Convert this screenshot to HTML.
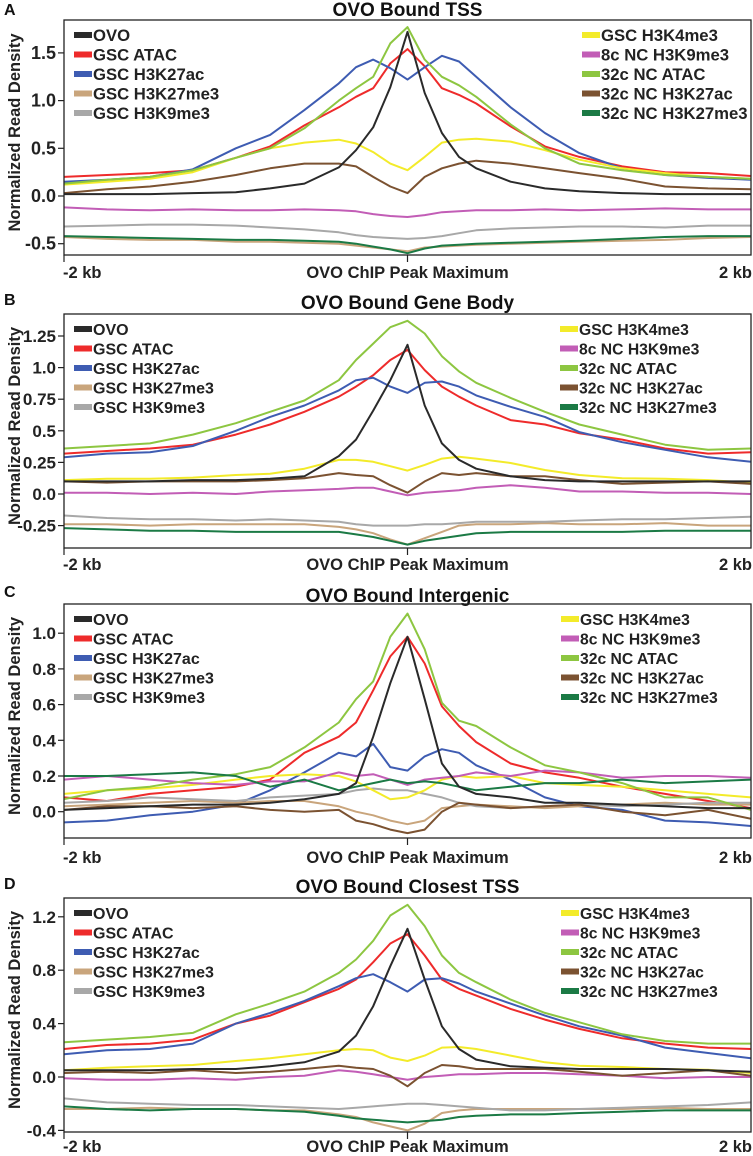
<!DOCTYPE html>
<html><head><meta charset="utf-8">
<style>
html,body{margin:0;padding:0;background:#fff;}
svg{display:block;font-family:"Liberation Sans",Arial,sans-serif;font-weight:bold;}
</style></head>
<body>
<svg id="fig" width="753" height="1156" viewBox="0 0 753 1156" xmlns="http://www.w3.org/2000/svg"></svg>
<script>
// shared x positions (bp relative to OVO ChIP peak maximum)
const positions = [-2000,-1750,-1500,-1250,-1000,-800,-600,-400,-300,-200,-100,0,100,200,300,400,600,800,1000,1250,1500,1750,2000];
const seriesNames = ["GSC ATAC","GSC H3K27ac","GSC H3K27me3","GSC H3K9me3","GSC H3K4me3","8c NC H3K9me3","32c NC ATAC","32c NC H3K27ac","32c NC H3K27me3","OVO"];

// Panel A: TSS
const tssOVO = [0.02,0.02,0.02,0.03,0.04,0.08,0.13,0.30,0.48,0.72,1.14,1.72,1.08,0.66,0.41,0.29,0.15,0.08,0.05,0.03,0.02,0.02,0.02];
const tssAtac = [0.20,0.22,0.24,0.27,0.40,0.52,0.74,0.93,1.04,1.13,1.39,1.54,1.36,1.13,1.06,0.97,0.73,0.52,0.41,0.31,0.25,0.24,0.21];
const tssK27ac = [0.15,0.17,0.20,0.28,0.50,0.64,0.90,1.18,1.35,1.43,1.34,1.22,1.35,1.47,1.41,1.25,0.93,0.66,0.45,0.29,0.22,0.19,0.17];
const tssK27me3 = [-0.43,-0.45,-0.46,-0.46,-0.48,-0.48,-0.49,-0.50,-0.52,-0.54,-0.56,-0.58,-0.54,-0.53,-0.52,-0.51,-0.50,-0.49,-0.48,-0.47,-0.46,-0.44,-0.43];
const tssK9me3 = [-0.32,-0.31,-0.30,-0.30,-0.31,-0.33,-0.35,-0.38,-0.41,-0.43,-0.44,-0.45,-0.44,-0.42,-0.39,-0.36,-0.34,-0.33,-0.32,-0.32,-0.33,-0.31,-0.31];
const tssK4me3 = [0.12,0.15,0.18,0.25,0.40,0.50,0.56,0.59,0.55,0.46,0.34,0.27,0.41,0.56,0.59,0.60,0.57,0.48,0.38,0.29,0.24,0.20,0.18];
const tssNc8K9 = [-0.12,-0.14,-0.15,-0.14,-0.15,-0.15,-0.14,-0.15,-0.16,-0.19,-0.21,-0.22,-0.20,-0.17,-0.16,-0.15,-0.15,-0.14,-0.15,-0.14,-0.13,-0.14,-0.14];
const tssNcAtac = [0.13,0.17,0.20,0.27,0.40,0.50,0.71,1.00,1.13,1.25,1.60,1.77,1.43,1.25,1.16,1.04,0.75,0.50,0.34,0.27,0.22,0.20,0.18];
const tssNcK27ac = [0.03,0.07,0.10,0.15,0.22,0.29,0.34,0.34,0.31,0.20,0.10,0.03,0.20,0.29,0.34,0.37,0.34,0.29,0.24,0.18,0.10,0.08,0.07];
const tssNcK27me3 = [-0.42,-0.43,-0.44,-0.45,-0.46,-0.46,-0.47,-0.48,-0.50,-0.53,-0.56,-0.60,-0.55,-0.52,-0.51,-0.50,-0.49,-0.48,-0.47,-0.45,-0.43,-0.42,-0.42];
const tssTicks = [1.5,1.0,0.5,0.0,-0.5];
const tssTickLabels = ["1.5","1.0","0.5","0.0","-0.5"];

// Panel B: Gene body
const gbOVO = [0.10,0.10,0.10,0.11,0.11,0.12,0.14,0.30,0.43,0.66,0.90,1.18,0.70,0.40,0.27,0.20,0.14,0.11,0.10,0.10,0.10,0.10,0.10];
const gbAtac = [0.32,0.34,0.36,0.39,0.47,0.55,0.65,0.77,0.85,0.94,1.06,1.14,0.98,0.85,0.77,0.70,0.585,0.55,0.48,0.43,0.36,0.32,0.33];
const gbK27ac = [0.29,0.32,0.33,0.38,0.50,0.61,0.70,0.82,0.90,0.92,0.85,0.80,0.88,0.89,0.85,0.78,0.69,0.61,0.49,0.41,0.35,0.29,0.255];
const gbK27me3 = [-0.24,-0.24,-0.25,-0.24,-0.24,-0.24,-0.24,-0.26,-0.28,-0.31,-0.36,-0.40,-0.35,-0.30,-0.25,-0.24,-0.24,-0.23,-0.24,-0.24,-0.23,-0.25,-0.25];
const gbK9me3 = [-0.17,-0.19,-0.20,-0.20,-0.21,-0.20,-0.21,-0.22,-0.24,-0.25,-0.25,-0.25,-0.24,-0.24,-0.23,-0.22,-0.22,-0.22,-0.21,-0.20,-0.20,-0.19,-0.18];
const gbK4me3 = [0.11,0.12,0.12,0.13,0.15,0.16,0.20,0.27,0.27,0.255,0.22,0.185,0.23,0.28,0.295,0.28,0.245,0.19,0.15,0.125,0.12,0.11,0.09];
const gbNc8K9 = [0.01,0.01,0.00,0.01,0.00,0.02,0.03,0.04,0.05,0.05,0.02,-0.01,0.01,0.02,0.03,0.05,0.07,0.05,0.02,0.02,0.01,0.01,0.00];
const gbNcAtac = [0.36,0.38,0.40,0.47,0.56,0.65,0.74,0.90,1.06,1.19,1.32,1.37,1.27,1.09,0.97,0.88,0.76,0.65,0.55,0.47,0.39,0.35,0.36];
const gbNcK27ac = [0.10,0.09,0.10,0.10,0.10,0.11,0.125,0.165,0.15,0.14,0.07,0.01,0.10,0.165,0.15,0.165,0.14,0.14,0.11,0.08,0.09,0.10,0.08];
const gbNcK27me3 = [-0.27,-0.28,-0.29,-0.29,-0.30,-0.30,-0.30,-0.30,-0.32,-0.34,-0.37,-0.40,-0.37,-0.35,-0.33,-0.31,-0.30,-0.30,-0.30,-0.30,-0.29,-0.29,-0.29];
const gbTicks = [1.25,1.0,0.75,0.5,0.25,0.0,-0.25];
const gbTickLabels = ["1.25","1.0","0.75","0.5","0.25","0.0","-0.25"];

// Panel C: Intergenic
const igOVO = [0.01,0.02,0.03,0.04,0.04,0.05,0.07,0.10,0.16,0.42,0.72,0.98,0.63,0.27,0.14,0.10,0.08,0.05,0.05,0.04,0.03,0.02,0.02];
const igAtac = [0.08,0.06,0.10,0.12,0.14,0.18,0.33,0.42,0.50,0.68,0.87,0.98,0.83,0.59,0.48,0.39,0.27,0.22,0.19,0.14,0.10,0.06,0.02];
const igK27ac = [-0.06,-0.05,-0.02,0.00,0.04,0.12,0.22,0.33,0.31,0.38,0.25,0.23,0.31,0.35,0.33,0.26,0.18,0.08,0.03,0.01,-0.05,-0.06,-0.08];
const igK27me3 = [0.03,0.04,0.05,0.06,0.05,0.06,0.06,0.03,0.00,-0.02,-0.05,-0.07,-0.05,0.02,0.03,0.04,0.03,0.02,0.03,0.04,0.05,0.04,0.04];
const igK9me3 = [0.05,0.06,0.08,0.07,0.06,0.08,0.09,0.10,0.12,0.13,0.12,0.12,0.10,0.08,0.05,0.03,0.02,0.03,0.04,0.03,0.04,0.05,0.05];
const igK4me3 = [0.10,0.12,0.13,0.15,0.18,0.20,0.21,0.20,0.17,0.12,0.07,0.08,0.12,0.18,0.20,0.19,0.20,0.16,0.15,0.14,0.12,0.10,0.08];
const igNc8K9 = [0.18,0.20,0.18,0.16,0.15,0.17,0.17,0.22,0.20,0.21,0.18,0.15,0.18,0.19,0.20,0.22,0.20,0.23,0.22,0.19,0.20,0.20,0.19];
const igNcAtac = [0.07,0.12,0.14,0.18,0.21,0.25,0.36,0.50,0.63,0.73,0.98,1.11,0.91,0.61,0.51,0.48,0.36,0.26,0.22,0.16,0.08,0.08,0.01];
const igNcK27ac = [0.01,0.03,0.03,0.02,0.03,0.01,0.00,0.01,-0.05,-0.07,-0.10,-0.12,-0.10,0.00,0.05,0.04,0.02,0.03,0.04,0.00,-0.02,0.01,-0.04];
const igNcK27me3 = [0.20,0.20,0.21,0.22,0.20,0.14,0.18,0.12,0.14,0.16,0.18,0.16,0.17,0.16,0.14,0.12,0.14,0.16,0.16,0.18,0.16,0.17,0.18];
const igTicks = [1.0,0.8,0.6,0.4,0.2,0.0];
const igTickLabels = ["1.0","0.8","0.6","0.4","0.2","0.0"];

// Panel D: Closest TSS
const ctOVO = [0.05,0.05,0.05,0.06,0.06,0.08,0.11,0.19,0.31,0.53,0.83,1.11,0.73,0.38,0.21,0.13,0.08,0.07,0.06,0.06,0.06,0.05,0.04];
const ctAtac = [0.21,0.24,0.25,0.28,0.40,0.46,0.56,0.66,0.73,0.86,1.00,1.07,0.91,0.73,0.66,0.61,0.51,0.43,0.36,0.29,0.25,0.22,0.21];
const ctK27ac = [0.17,0.20,0.21,0.25,0.40,0.48,0.57,0.68,0.74,0.77,0.71,0.64,0.73,0.74,0.70,0.64,0.55,0.46,0.38,0.31,0.22,0.18,0.14];
const ctK27me3 = [-0.24,-0.24,-0.23,-0.24,-0.24,-0.25,-0.25,-0.28,-0.30,-0.34,-0.37,-0.40,-0.35,-0.27,-0.25,-0.24,-0.24,-0.24,-0.24,-0.24,-0.23,-0.24,-0.24];
const ctK9me3 = [-0.16,-0.19,-0.20,-0.21,-0.21,-0.22,-0.23,-0.24,-0.23,-0.22,-0.21,-0.20,-0.20,-0.21,-0.22,-0.23,-0.25,-0.25,-0.24,-0.23,-0.22,-0.21,-0.19];
const ctK4me3 = [0.05,0.07,0.08,0.09,0.12,0.14,0.17,0.20,0.21,0.20,0.145,0.12,0.16,0.22,0.225,0.21,0.16,0.11,0.085,0.075,0.06,0.055,0.03];
const ctNc8K9 = [-0.01,-0.02,-0.02,-0.01,-0.02,0.00,0.01,0.05,0.04,0.02,0.00,-0.02,0.00,0.01,0.02,0.02,0.03,0.03,0.02,0.01,-0.01,0.00,0.00];
const ctNcAtac = [0.26,0.28,0.30,0.33,0.47,0.55,0.64,0.78,0.88,1.02,1.21,1.29,1.13,0.91,0.78,0.71,0.58,0.48,0.41,0.32,0.27,0.25,0.25];
const ctNcK27ac = [0.03,0.04,0.03,0.05,0.03,0.04,0.06,0.085,0.07,0.06,0.01,-0.07,0.03,0.09,0.08,0.06,0.06,0.06,0.04,0.01,0.03,0.05,0.01];
const ctNcK27me3 = [-0.22,-0.24,-0.25,-0.24,-0.24,-0.25,-0.26,-0.29,-0.31,-0.32,-0.33,-0.34,-0.33,-0.32,-0.30,-0.29,-0.28,-0.28,-0.27,-0.26,-0.25,-0.25,-0.25];
const ctTicks = [1.2,0.8,0.4,0.0,-0.4];
const ctTickLabels = ["1.2","0.8","0.4","0.0","-0.4"];

const NS = "http://www.w3.org/2000/svg";
const svg = document.getElementById("fig");
const colors = {"OVO":"#2a2a2a","GSC ATAC":"#ee2b2b","GSC H3K27ac":"#3e5cb2","GSC H3K27me3":"#c9a57c","GSC H3K9me3":"#a8a8a8","GSC H3K4me3":"#f3eb2a","8c NC H3K9me3":"#c25db6","32c NC ATAC":"#8dc641","32c NC H3K27ac":"#7b5231","32c NC H3K27me3":"#1b7a45"};
const leftLegend = ["OVO","GSC ATAC","GSC H3K27ac","GSC H3K27me3","GSC H3K9me3"];
const rightLegend = ["GSC H3K4me3","8c NC H3K9me3","32c NC ATAC","32c NC H3K27ac","32c NC H3K27me3"];

function mk(tag, attrs, parent){
  const e = document.createElementNS(NS, tag);
  for (const k in attrs) e.setAttribute(k, attrs[k]);
  (parent||svg).appendChild(e);
  return e;
}
const X0 = 64, X1 = 751;
function xScale(bp){ return X0 + (bp + 2000) / 4000 * (X1 - X0); }

const panels = [
  {key:"a", letter:"A", title:"OVO Bound TSS", top:20, bottom:255, zeroY:196, ppu:95.4, titleY:16, labelY:278, letterY:15, legX:582, legFs:16.7, leftFs:16.7, tickFs:18,
   ticks:tssTicks, tickLabels:tssTickLabels,
   data:{"OVO":tssOVO,"GSC ATAC":tssAtac,"GSC H3K27ac":tssK27ac,"GSC H3K27me3":tssK27me3,"GSC H3K9me3":tssK9me3,"GSC H3K4me3":tssK4me3,"8c NC H3K9me3":tssNc8K9,"32c NC ATAC":tssNcAtac,"32c NC H3K27ac":tssNcK27ac,"32c NC H3K27me3":tssNcK27me3}},
  {key:"b", letter:"B", title:"OVO Bound Gene Body", top:314, bottom:548, zeroY:494, ppu:126.4, titleY:309, labelY:570, letterY:305, legX:560, legFs:15.7, leftFs:16, tickFs:17,
   ticks:gbTicks, tickLabels:gbTickLabels,
   data:{"OVO":gbOVO,"GSC ATAC":gbAtac,"GSC H3K27ac":gbK27ac,"GSC H3K27me3":gbK27me3,"GSC H3K9me3":gbK9me3,"GSC H3K4me3":gbK4me3,"8c NC H3K9me3":gbNc8K9,"32c NC ATAC":gbNcAtac,"32c NC H3K27ac":gbNcK27ac,"32c NC H3K27me3":gbNcK27me3}},
  {key:"c", letter:"C", title:"OVO Bound Intergenic", top:604, bottom:838, zeroY:811.7, ppu:178.5, titleY:602, labelY:863, letterY:597, legX:561, legFs:15.7, leftFs:16, tickFs:17,
   ticks:igTicks, tickLabels:igTickLabels,
   data:{"OVO":igOVO,"GSC ATAC":igAtac,"GSC H3K27ac":igK27ac,"GSC H3K27me3":igK27me3,"GSC H3K9me3":igK9me3,"GSC H3K4me3":igK4me3,"8c NC H3K9me3":igNc8K9,"32c NC ATAC":igNcAtac,"32c NC H3K27ac":igNcK27ac,"32c NC H3K27me3":igNcK27me3}},
  {key:"d", letter:"D", title:"OVO Bound Closest TSS", top:898, bottom:1132, zeroY:1077, ppu:133.5, titleY:893, labelY:1152, letterY:889, legX:561, legFs:15.7, leftFs:16, tickFs:17,
   ticks:ctTicks, tickLabels:ctTickLabels,
   data:{"OVO":ctOVO,"GSC ATAC":ctAtac,"GSC H3K27ac":ctK27ac,"GSC H3K27me3":ctK27me3,"GSC H3K9me3":ctK9me3,"GSC H3K4me3":ctK4me3,"8c NC H3K9me3":ctNc8K9,"32c NC ATAC":ctNcAtac,"32c NC H3K27ac":ctNcK27ac,"32c NC H3K27me3":ctNcK27me3}}
];

panels.forEach(p => {
  const yScale = v => p.zeroY - v * p.ppu;
  const g = mk("g", {});
  
  

  const letter = mk("text", {x:4, y:p.letterY, "font-size":16, fill:"#111"}, g);
  letter.textContent = p.letter;
  
  

  const title = mk("text", {x:407.5, y:p.titleY, "font-size":19, "text-anchor":"middle", fill:"#111"}, g);
  title.textContent = p.title;
  
  

  const cid = "clip" + p.key;
  const cp = mk("clipPath", {id:cid}, g);
  mk("rect", {x:X0, y:p.top, width:X1-X0, height:p.bottom-p.top}, cp);
  const lines = mk("g", {"clip-path":"url(#"+cid+")"}, g);
  
  
  seriesNames.forEach(name => {
    const vals = p.data[name];
    const pts = vals.map((v,i) => xScale(positions[i]).toFixed(1) + "," + yScale(v).toFixed(1)).join(" ");
    const pl = mk("polyline", {points:pts, fill:"none", stroke:colors[name], "stroke-width":2, "stroke-linejoin":"round"}, lines);
    
    
  });

  const frame = mk("rect", {x:X0, y:p.top, width:X1-X0, height:p.bottom-p.top, fill:"none", stroke:"#222", "stroke-width":1.3}, g);
  
  

  p.ticks.forEach((t,i) => {
    const y = yScale(t);
    const tk = mk("line", {x1:X0-6, x2:X0, y1:y, y2:y, stroke:"#222", "stroke-width":1.2}, g);
    
    
    const tl = mk("text", {x:X0-8, y:y+6, "font-size":p.tickFs, "text-anchor":"end", fill:"#222"}, g);
    tl.textContent = p.tickLabels[i];
    
    
  });

  const cy = (p.top + p.bottom) / 2 - 5;
  const yt = mk("text", {x:0, y:0, "font-size":16.5, "text-anchor":"middle", fill:"#222", transform:"translate(20,"+cy+") rotate(-90)"}, g);
  yt.textContent = "Normalized Read Density";
  
  

  const ct = mk("line", {x1:xScale(0), x2:xScale(0), y1:p.bottom, y2:p.bottom+7, stroke:"#222", "stroke-width":1.2}, g);
  
  
  const lt = mk("line", {x1:X0, x2:X0, y1:p.bottom, y2:p.bottom+7, stroke:"#222", "stroke-width":1.2}, g);
  
  
  const xl1 = mk("text", {x:X0-1, y:p.labelY, "font-size":16.5, fill:"#222"}, g);
  xl1.textContent = "-2 kb";
  
  
  const xl2 = mk("text", {x:xScale(0), y:p.labelY, "font-size":16.5, "text-anchor":"middle", fill:"#222"}, g);
  xl2.textContent = "OVO ChIP Peak Maximum";
  
  
  const xl3 = mk("text", {x:X1+1, y:p.labelY, "font-size":16.5, "text-anchor":"end", fill:"#222"}, g);
  xl3.textContent = "2 kb";
  
  

  [[leftLegend, 74, p.leftFs],[rightLegend, p.legX, p.legFs]].forEach(([items, lx, fs]) => {
    items.forEach((name, i) => {
      const ry = p.top + 15 + i * 19.5;
      const le = mk("g", {}, g);
      
      
      mk("rect", {x:lx, y:ry-3, width:18, height:6, fill:colors[name]}, le);
      const tx = mk("text", {x:lx+19, y:ry+6, "font-size":fs, fill:"#222"}, le);
      tx.textContent = name;
    });
  });
});
</script>
</body></html>
